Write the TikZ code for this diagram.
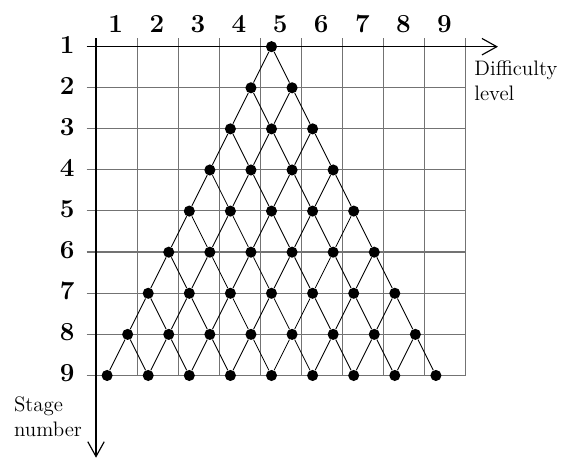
\documentclass[tikz,border=0pt]{standalone}
\usetikzlibrary{arrows.meta}
\tikzset{
  dot/.style={circle,fill=black,inner sep=0pt,minimum size=0.27cm},
  edge/.style={black,line width=0.6pt},
  gridline/.style={black!55,line width=0.8pt},
  axis/.style={black,line width=1.1pt,-{Straight Barb[length=3.6mm,width=4mm,line width=0.8pt]}},
  numlabel/.style={font=\fontsize{18}{21}\selectfont\bfseries},
  axlabel/.style={font=\fontsize{14.5}{17.5}\selectfont,align=left,inner sep=0pt,anchor=north west}
}
\begin{document}
\begin{tikzpicture}
\useasboundingbox (-2.336,-10.08) rectangle (11.411,1.136);
% grid
\foreach \i in {1,...,9}
  \draw[gridline] (\i,0.21) -- (\i,-8);
\foreach \r in {1,...,8}
  \draw[gridline] (-0.23,-\r+0.005) -- (9,-\r+0.005);
% axes
\draw[axis] (-0.23,0) -- (9.78,0);
\draw[axis] (0,0.21) -- (0,-10.0);
% labels
\foreach \i in {1,...,9} {
  \node[numlabel] (c\i) at (\i-0.52,0.55) {\i};
  \node[numlabel] (r\i) at (-0.7,{1.05-\i}) {\i};
}
\node[axlabel] (difficulty) at (9.2,-0.33) {Difficulty\\level};
\node[axlabel] (stage) at (-2.0,-8.5) {Stage\\number};
% dots
\foreach \k in {1,...,9}
  \foreach \j in {1,...,\k} {
    \pgfmathsetmacro{\xx}{4.27+\j-(\k+1)/2}
    \node[dot] (d\k-\j) at (\xx,{1-\k}) {};
  }
\foreach \k in {1,...,8}
  \foreach \j in {1,...,\k} {
    \pgfmathtruncatemacro{\nk}{\k+1}
    \pgfmathtruncatemacro{\nj}{\j+1}
    \draw[edge] (d\k-\j) -- (d\nk-\j);
    \draw[edge] (d\k-\j) -- (d\nk-\nj);
  }
\end{tikzpicture}
\end{document}
